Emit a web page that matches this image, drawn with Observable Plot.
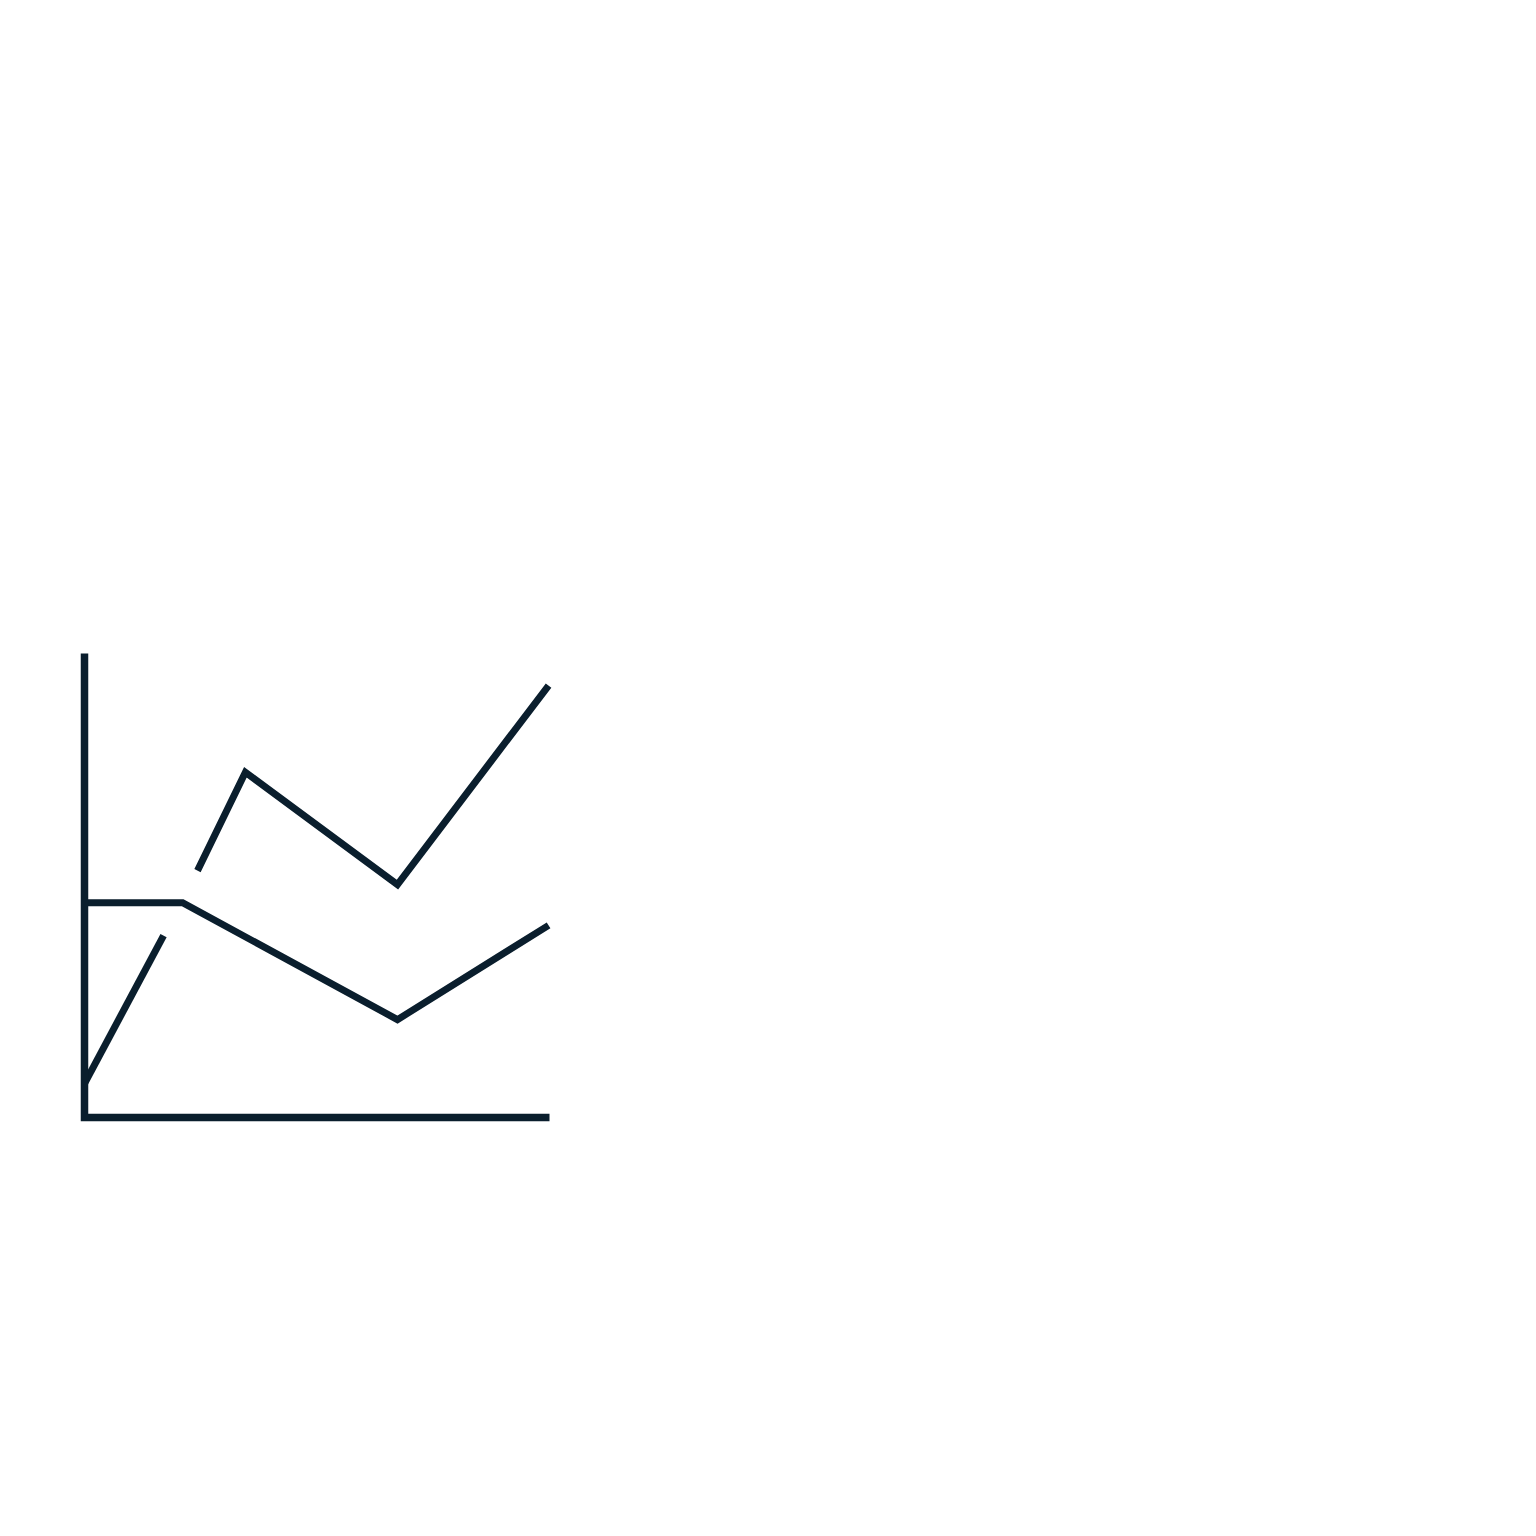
<!DOCTYPE html>
<html>
<head>
<meta charset="utf-8">
<script src="https://cdn.jsdelivr.net/npm/d3@7"></script>
<script src="https://cdn.jsdelivr.net/npm/@observablehq/plot@0.6"></script>
<style>
  html, body { margin: 0; padding: 0; background: #ffffff; }
  #chart svg { display: block; }
</style>
</head>
<body>
<div id="chart"></div>
<script>
// Upper series (broken where it crosses the lower series)
const upperSegment = ["a", "a", "b", "b", "b", "b"];
const upperX = [0, 1.70, 2.43, 3.46, 6.73, 9.98];
const upperY = [0.73, 3.92, 5.32, 7.44, 5.02, 9.31];

// Lower series
const lowerX = [0, 2.11, 6.73, 9.98];
const lowerY = [4.63, 4.63, 2.11, 4.14];

// Axis frame (L-shaped)
const axisX = [0, 0, 10];
const axisY = [10, 0, 0];

const ink = "#0a1e2d";

const upper = upperX.map((x, i) => ({x, y: upperY[i], seg: "upper-" + upperSegment[i]}));
const lower = lowerX.map((x, i) => ({x, y: lowerY[i], seg: "lower"}));
const axis = axisX.map((x, i) => ({x, y: axisY[i]}));

const chart = Plot.plot({
  width: 1536,
  height: 1536,
  marginLeft: 84,
  marginRight: 987,
  marginTop: 653,
  marginBottom: 419,
  x: {domain: [0, 10], axis: null},
  y: {domain: [0, 10], axis: null},
  style: {background: "#ffffff"},
  marks: [
    Plot.line(upper, {x: "x", y: "y", z: "seg", stroke: ink, strokeWidth: 7, strokeLinecap: "butt", strokeLinejoin: "miter", strokeMiterlimit: 10}),
    Plot.line(lower, {x: "x", y: "y", stroke: ink, strokeWidth: 7, strokeLinecap: "butt", strokeLinejoin: "miter", strokeMiterlimit: 10}),
    Plot.line(axis, {x: "x", y: "y", stroke: ink, strokeWidth: 7.5, strokeLinecap: "butt", strokeLinejoin: "miter", strokeMiterlimit: 10})
  ]
});
document.getElementById("chart").appendChild(chart);
</script>
</body>
</html>
